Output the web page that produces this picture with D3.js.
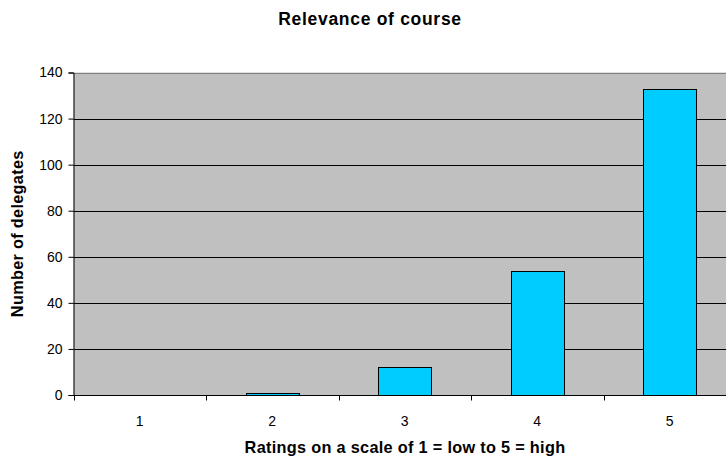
<!DOCTYPE html>
<html lang="en">
<head>
    <meta charset="UTF-8">
    <title>Relevance of course</title>
    <script src="https://d3js.org/d3.v7.min.js"></script>
    <style>
        body { margin: 0; background: #fff; }
        text { font-family: "Liberation Sans", Arial, sans-serif; fill: #000; }
        .tick-label { font-size: 14px; }
        .title { font-size: 17.5px; font-weight: bold; letter-spacing: 0.7px; }
        .axis-title { font-size: 16.3px; font-weight: bold; letter-spacing: 0.3px; }
    </style>
</head>
<body>
    <svg width="726" height="459"></svg>

    <script>
        // data
        const ratings = ["1", "2", "3", "4", "5"];
        const delegates = [0, 1, 12, 54, 133];
        const yTicks = [0, 20, 40, 60, 80, 100, 120, 140];

        const width = 726;
        const height = 459;
        const margin = { top: 72.5, right: -10, bottom: 64, left: 73.5 };

        const svg = d3.select("svg");

        const xScale = d3.scaleBand()
            .domain(ratings)
            .range([margin.left, width - margin.right])
            .paddingInner(0.6)
            .paddingOuter(0.3);

        const yScale = d3.scaleLinear()
            .domain([0, 140])
            .range([height - margin.bottom, margin.top]);

        const step = xScale.step();
        const x0 = margin.left;
        const x1 = width - margin.right;
        const yBottom = height - margin.bottom;

        // plot background
        svg.append("rect")
            .attr("x", x0)
            .attr("y", margin.top)
            .attr("width", x1 - x0)
            .attr("height", yBottom - margin.top)
            .attr("fill", "#c0c0c0");

        // gridlines
        svg.append("g")
            .selectAll("line")
            .data(yTicks.filter(d => d > 0))
            .join("line")
            .attr("x1", x0)
            .attr("x2", x1)
            .attr("y1", d => Math.round(yScale(d)) + 0.5)
            .attr("y2", d => Math.round(yScale(d)) + 0.5)
            .attr("stroke", d => d === 140 ? "#808080" : "#000")
            .attr("stroke-width", 1);

        // bars
        svg.append("g")
            .selectAll("rect")
            .data(ratings)
            .join("rect")
            .attr("x", d => Math.round(xScale(d)) + 0.5)
            .attr("y", (d, i) => Math.round(yScale(delegates[i])) + 0.5)
            .attr("width", xScale.bandwidth())
            .attr("height", (d, i) => yBottom - Math.round(yScale(delegates[i])))
            .attr("fill", "#00ccff")
            .attr("stroke", "#000")
            .attr("stroke-width", 1)
            .style("display", (d, i) => delegates[i] > 0 ? null : "none");

        // y axis
        const yAxis = d3.axisLeft(yScale).tickValues(yTicks).tickSize(5).tickPadding(6);
        const gy = svg.append("g")
            .attr("transform", `translate(${x0}, 0)`)
            .call(yAxis);
        gy.select(".domain").attr("stroke", "#000");
        gy.selectAll("text").attr("class", "tick-label").attr("fill", "#000").style("font-family", null);

        // x axis: ticks between categories
        const gx = svg.append("g").attr("transform", `translate(0, ${yBottom + 0.5})`);
        gx.append("line")
            .attr("x1", x0).attr("x2", x1)
            .attr("stroke", "#000");
        gx.selectAll(".xt")
            .data(d3.range(ratings.length + 1))
            .join("line")
            .attr("class", "xt")
            .attr("x1", i => Math.round(x0 + i * step) + 0.5)
            .attr("x2", i => Math.round(x0 + i * step) + 0.5)
            .attr("y1", 0).attr("y2", 5)
            .attr("stroke", "#000");
        gx.selectAll(".xl")
            .data(ratings)
            .join("text")
            .attr("class", "tick-label")
            .attr("x", d => xScale(d) + xScale.bandwidth() / 2)
            .attr("y", 30)
            .attr("text-anchor", "middle")
            .text(d => d);

        // titles
        svg.append("text")
            .attr("class", "title")
            .attr("x", 370)
            .attr("y", 25)
            .attr("text-anchor", "middle")
            .text("Relevance of course");

        svg.append("text")
            .attr("class", "axis-title")
            .attr("x", 405)
            .attr("y", 453)
            .attr("text-anchor", "middle")
            .text("Ratings on a scale of 1 = low to 5 = high");

        svg.append("text")
            .attr("class", "axis-title")
            .attr("transform", `translate(23, ${(margin.top + yBottom) / 2}) rotate(-90)`)
            .attr("text-anchor", "middle")
            .text("Number of delegates");
    </script>
</body>
</html>
